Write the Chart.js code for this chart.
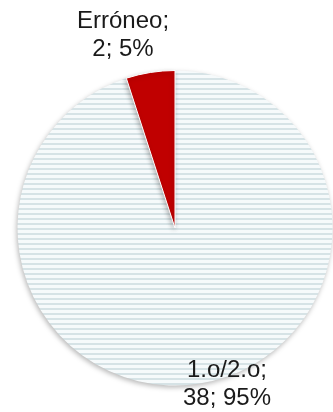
<!DOCTYPE html>
<html><head><meta charset="utf-8">
<script src="https://cdn.jsdelivr.net/npm/chart.js@4"></script>
<style>html,body{margin:0;padding:0;background:#fff;}#wrap{width:333px;height:412px;}</style>
</head><body><div id="wrap"><canvas id="c" width="333" height="412"></canvas></div>
<script>
const categories = ["1.o/2.o", "Erróneo"];
const counts = [38, 2];
const percents = ["95%", "5%"];

function stripePattern() {
  const p = document.createElement('canvas');
  p.width = 8; p.height = 5;
  const g = p.getContext('2d');
  g.fillStyle = '#f6fafb'; g.fillRect(0, 0, 8, 5);
  g.fillStyle = '#d6e3e6'; g.fillRect(0, 3, 8, 2);
  return document.getElementById('c').getContext('2d').createPattern(p, 'repeat');
}

const labelPlugin = {
  id: 'sliceLabels',
  afterDatasetsDraw(chart) {
    const ctx = chart.ctx;
    const arcs = chart.getDatasetMeta(0).data;
    const offsets = [[0.33, 0.99], [-0.33, -1.225]];
    ctx.save();
    ctx.font = '24px "Liberation Sans", Arial, sans-serif';
    ctx.fillStyle = '#1a1a1a';
    ctx.textAlign = 'center';
    ctx.textBaseline = 'middle';
    arcs.forEach((a, i) => {
      const r = a.outerRadius;
      const x = a.x + offsets[i][0] * r;
      const y = a.y + offsets[i][1] * r;
      ctx.fillText(categories[i] + ';', x, y - 14);
      ctx.fillText(counts[i] + '; ' + percents[i], x, y + 14);
    });
    ctx.restore();
  }
};

const shadowPlugin = {
  id: 'pieShadow',
  beforeDatasetsDraw(chart) {
    const ctx = chart.ctx;
    ctx.save();
    ctx.shadowColor = 'rgba(0,0,0,0.28)';
    ctx.shadowBlur = 5;
    ctx.shadowOffsetX = -1;
    ctx.shadowOffsetY = 2;
  },
  afterDatasetsDraw(chart) { chart.ctx.restore(); }
};

new Chart(document.getElementById('c'), {
  type: 'pie',
  data: {
    labels: categories,
    datasets: [{
      data: counts,
      backgroundColor: [stripePattern(), '#c00000'],
      borderColor: '#ffffff',
      borderWidth: [0, 1]
    }]
  },
  options: {
    responsive: false,
    animation: false,
    layout: { padding: { left: 17, right: 0, top: 70, bottom: 26 } },
    plugins: { legend: { display: false }, tooltip: { enabled: false } }
  },
  plugins: [shadowPlugin, labelPlugin]
});
</script>
</body></html>
